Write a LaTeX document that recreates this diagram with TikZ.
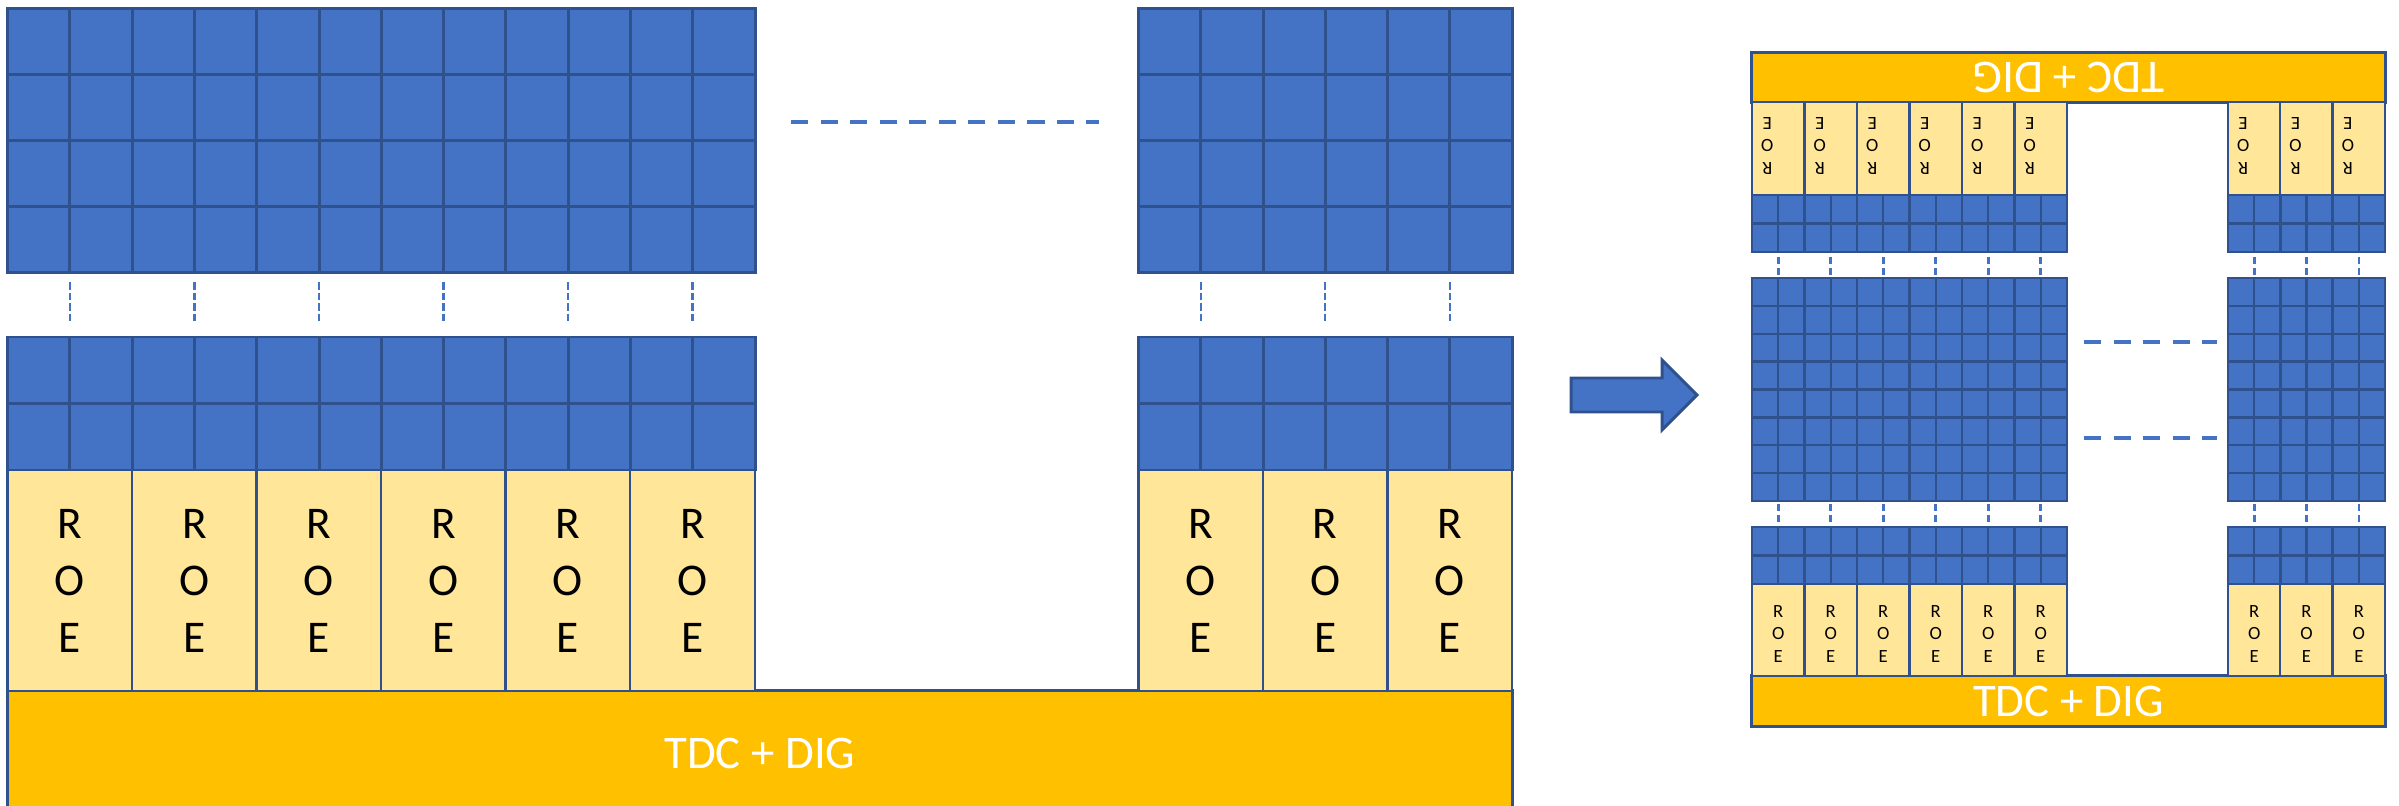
\documentclass[tikz,border=0pt]{standalone}
\usepackage{fontspec}
\setmainfont{Carlito}
\definecolor{cellblue}{HTML}{4472C4}
\definecolor{edgeblue}{HTML}{2F528F}
\definecolor{roeyellow}{HTML}{FFE699}
\definecolor{tdcgold}{HTML}{FFC000}
\tikzset{
  gridbig/.style={draw=edgeblue, line width=0.85pt},
  gridsmall/.style={draw=edgeblue, line width=0.7pt},
  roebig/.style={draw=edgeblue, fill=roeyellow, line width=0.7pt, inner sep=0pt, align=center,
    font=\fontsize{12.9}{16.2}\selectfont, minimum width=1.245cm, minimum height=2.21cm},
  roesmall/.style={draw=edgeblue, fill=roeyellow, line width=0.7pt, inner sep=0pt,
    minimum width=0.525cm},
  roesmalltxt/.style={inner sep=0pt, align=center, font=\fontsize{5.3}{6.4}\selectfont},
  tdcbox/.style={draw=edgeblue, fill=tdcgold, line width=0.85pt, inner sep=0pt, text=white,
    font=\fontsize{13.3}{16}\selectfont},
  vdashbig/.style={draw=cellblue, line width=0.7pt, dash pattern=on 2.2pt off 0.8pt},
  vdashsmall/.style={draw=cellblue, line width=0.75pt, dash pattern=on 2pt off 1.1pt},
  hdash/.style={draw=cellblue, line width=1.15pt, dash pattern=on 4.9pt off 3.5pt},
  bigarrow/.style={fill=cellblue, draw=edgeblue, line width=0.85pt, line join=miter},
}
% #1 x0, #2 y0, #3 x1, #4 y1, #5 columns, #6 rows, #7 line style
\newcommand{\chipgrid}[7]{%
  \fill[cellblue] (#1,#2) rectangle (#3,#4);
  \pgfmathtruncatemacro\chipNC{#5-1}%
  \pgfmathtruncatemacro\chipNR{#6-1}%
  \foreach \i in {1,...,\chipNC} {\draw[#7] ({#1+(#3-#1)*\i/#5},#2) -- ({#1+(#3-#1)*\i/#5},#4);}
  \foreach \j in {1,...,\chipNR} {\draw[#7] (#1,{#2+(#4-#2)*\j/#6}) -- (#3,{#2+(#4-#2)*\j/#6});}
  \draw[#7] (#1,#2) rectangle (#3,#4);
}
\begin{document}
\begin{tikzpicture}[x=0.01cm, y=-0.01cm]
\useasboundingbox (0,0) rectangle (2399,806);
\clip (0,0) rectangle (2399,806);

% ---------------- left diagram ----------------
\node[tdcbox, minimum width=15.043cm, minimum height=1.24cm] (tdcL) at (759.85,753) {TDC + DIG};

\chipgrid{7.7}{8.3}{755}{272.7}{12}{4}{gridbig}
\chipgrid{1138.5}{8.3}{1512}{272.7}{6}{4}{gridbig}
\chipgrid{7.7}{337}{755}{470}{12}{2}{gridbig}
\chipgrid{1138.5}{337}{1512}{470}{6}{2}{gridbig}

\foreach \i in {1,...,6}
  \node[roebig] (roeL\i) at ({7.7+124.5*(\i-0.5)},580.5) {R\\O\\E};
\foreach \i in {1,...,3}
  \node[roebig] (roeR\i) at ({1138.5+124.5*(\i-0.5)},580.5) {R\\O\\E};

\foreach \x in {69.95,194.45,318.95,443.45,567.95,692.45,1200.75,1325.25,1449.75}
  \draw[vdashbig] (\x,282) -- (\x,323);

\coordinate (hdA) at (791,122);
\coordinate (hdB) at (1099,122);
\draw[hdash] (hdA) -- (hdB);

% ---------------- arrow ----------------
\draw[bigarrow] (1571,378) -- (1662,378) -- (1662,360) -- (1697,395) -- (1662,430) -- (1662,412) -- (1571,412) -- cycle;

% ---------------- right diagram ----------------
\node[tdcbox, minimum width=6.33cm, minimum height=0.49cm, rotate=180] (tdcTop) at (2068.5,77.5) {TDC + DIG};
\node[tdcbox, minimum width=6.33cm, minimum height=0.50cm] (tdcBot) at (2068.5,701) {TDC + DIG};

% upper (flipped) ROE row
\foreach \i in {1,...,6} {
  \node[roesmall, minimum height=0.93cm] (roeUL\i) at ({1752+52.5*(\i-0.5)},148.5) {};
  \node[roesmalltxt, rotate=180] (roeULt\i) at ({1752+52.5*(\i-0.5)-11},145.5) {R\\O\\E};
}
\foreach \i in {1,...,3} {
  \node[roesmall, minimum height=0.93cm] (roeUR\i) at ({2228+52.33*(\i-0.5)},148.5) {};
  \node[roesmalltxt, rotate=180] (roeURt\i) at ({2228+52.33*(\i-0.5)-11},145.5) {R\\O\\E};
}
% lower ROE row
\foreach \i in {1,...,6} {
  \node[roesmall, minimum height=0.92cm] (roeBL\i) at ({1752+52.5*(\i-0.5)},630) {};
  \node[roesmalltxt] (roeBLt\i) at ({1752+52.5*(\i-0.5)},634) {R\\O\\E};
}
\foreach \i in {1,...,3} {
  \node[roesmall, minimum height=0.92cm] (roeBR\i) at ({2228+52.33*(\i-0.5)},630) {};
  \node[roesmalltxt] (roeBRt\i) at ({2228+52.33*(\i-0.5)},634) {R\\O\\E};
}

% pixel grids
\chipgrid{1752}{195}{2067}{252}{12}{2}{gridsmall}
\chipgrid{2228}{195}{2385}{252}{6}{2}{gridsmall}
\chipgrid{1752}{278}{2067}{501}{12}{8}{gridsmall}
\chipgrid{2228}{278}{2385}{501}{6}{8}{gridsmall}
\chipgrid{1752}{527}{2067}{584}{12}{2}{gridsmall}
\chipgrid{2228}{527}{2385}{584}{6}{2}{gridsmall}

\foreach \x in {1778.25,1830.75,1883.25,1935.75,1988.25,2040.75,2254.2,2306.5,2358.8} {
  \draw[vdashsmall] (\x,257) -- (\x,276);
  \draw[vdashsmall] (\x,504) -- (\x,523);
}

\coordinate (hdC) at (2084,342);
\coordinate (hdD) at (2217,342);
\coordinate (hdE) at (2084,438);
\coordinate (hdF) at (2217,438);
\draw[hdash] (hdC) -- (hdD);
\draw[hdash] (hdE) -- (hdF);
\end{tikzpicture}
\end{document}
